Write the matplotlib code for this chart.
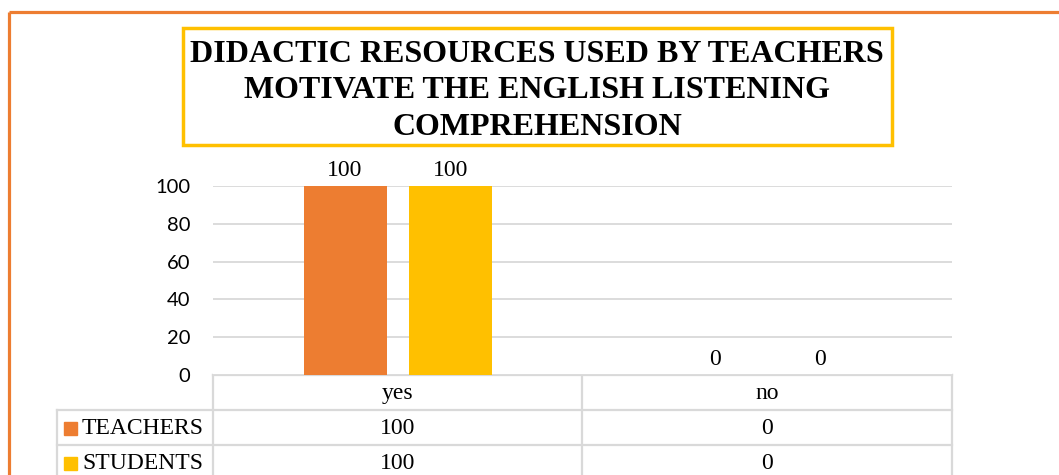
import matplotlib
matplotlib.use("Agg")
import matplotlib.pyplot as plt
from matplotlib.patches import Rectangle

# chart data
categories = ["yes", "no"]
series_names = ["TEACHERS", "STUDENTS"]
teachers = [100, 0]
students = [100, 0]
y_ticks = [0, 20, 40, 60, 80, 100]

title = "DIDACTIC RESOURCES USED BY TEACHERS\nMOTIVATE THE ENGLISH LISTENING\nCOMPREHENSION"

ORANGE = "#ED7D31"
YELLOW = "#FFC000"
GRID = "#D9D9D9"
SERIF = "Liberation Serif"
SANS = "Lato"

W, H = 1059, 475
fig = plt.figure(figsize=(W / 100, H / 100), dpi=100)

def px_axes(x0, y0, x1, y1):
    # axes placed by pixel box (top-left origin)
    return fig.add_axes([x0 / W, 1 - y1 / H, (x1 - x0) / W, (y1 - y0) / H])

# overlay for frame, title box and table lines
ov = fig.add_axes([0, 0, 1, 1])
ov.set_xlim(0, W)
ov.set_ylim(H, 0)
ov.axis("off")
ov.plot([9, W], [12, 12], color=ORANGE, lw=2.3, solid_capstyle="butt")
ov.plot([9, 9], [12, H], color=ORANGE, lw=2.3, solid_capstyle="butt")
ov.add_patch(Rectangle((183, 28), 709, 117, fill=False, ec=YELLOW, lw=2.5))
ov.text(537, 91, title, ha="center", va="center", family=SERIF,
        fontweight="bold", fontsize=23, linespacing=1.36)

# bar plot
ax = px_axes(213, 186, 952, 375)
n = len(categories)
bw = 0.225
gap = 0.06
xs = list(range(n))
for i, (vals, col) in enumerate([(teachers, ORANGE), (students, YELLOW)]):
    off = (i - 0.5) * (bw + gap)
    pos = [x + off for x in xs]
    ax.bar(pos, vals, width=bw, color=col, zorder=3)
    for p, v in zip(pos, vals):
        ax.annotate(str(v), (p, v), xytext=(0, 7), textcoords="offset points",
                    ha="center", va="baseline", family=SERIF, fontsize=17,
                    annotation_clip=False)
ax.set_xlim(-0.5, n - 0.5)
ax.set_ylim(0, 100)
ax.set_yticks(y_ticks)
ax.set_yticklabels([str(t) for t in y_ticks], family=SANS, fontsize=14.5)
ax.tick_params(axis="y", length=0, pad=16.5)
ax.set_xticks([])
ax.grid(axis="y", color=GRID, lw=1.3, zorder=0)
for s in ax.spines.values():
    s.set_visible(False)

# data table under the bars
col_edges = [213, 582, 952]
row_edges = [375, 410, 445, 480]
lw_t = 1.6
ov.plot([col_edges[0], col_edges[-1]], [row_edges[0]] * 2, color=GRID, lw=lw_t)
for y in row_edges[1:]:
    ov.plot([57, col_edges[-1]], [y, y], color=GRID, lw=lw_t)
for x in col_edges:
    ov.plot([x, x], [row_edges[0], H], color=GRID, lw=lw_t)
ov.plot([57, 57], [row_edges[1], H], color=GRID, lw=lw_t)

for j, cat in enumerate(categories):
    cx = (col_edges[j] + col_edges[j + 1]) / 2
    ov.text(cx, (row_edges[0] + row_edges[1]) / 2 + 1, cat, ha="center",
            va="center", family=SERIF, fontsize=17)
for r, (name, vals, col) in enumerate(zip(series_names, [teachers, students],
                                          [ORANGE, YELLOW])):
    cy = (row_edges[r + 1] + row_edges[r + 2]) / 2
    ov.add_patch(Rectangle((64, cy - 6), 13, 13, color=col))
    ov.text(82, cy + 1, name, ha="left", va="center", family=SERIF, fontsize=17)
    for j, v in enumerate(vals):
        cx = (col_edges[j] + col_edges[j + 1]) / 2
        ov.text(cx, cy + 1, str(v), ha="center", va="center", family=SERIF,
                fontsize=17)

fig.savefig("out.png", dpi=100)
